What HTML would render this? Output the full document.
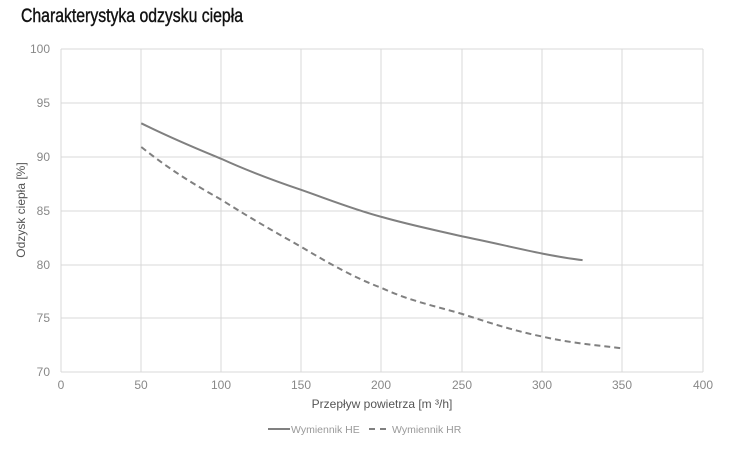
<!DOCTYPE html>
<html><head><meta charset="utf-8"><style>
body{margin:0;background:#fff;width:730px;height:447px;overflow:hidden}
svg text{font-family:"Liberation Sans",sans-serif}
</style></head><body>
<svg width="730" height="447" xmlns="http://www.w3.org/2000/svg">
<text x="21" y="22" font-size="19" fill="#111" stroke="#111" stroke-width="0.4" textLength="222" lengthAdjust="spacingAndGlyphs">Charakterystyka odzysku ciepła</text>
<g stroke="#d9d9d9" stroke-width="1">
<line x1="61" y1="49" x2="703" y2="49"/><line x1="61" y1="103" x2="703" y2="103"/><line x1="61" y1="157" x2="703" y2="157"/><line x1="61" y1="211" x2="703" y2="211"/><line x1="61" y1="265" x2="703" y2="265"/><line x1="61" y1="318" x2="703" y2="318"/>
<line x1="141" y1="49" x2="141" y2="372"/><line x1="221" y1="49" x2="221" y2="372"/><line x1="301" y1="49" x2="301" y2="372"/><line x1="381" y1="49" x2="381" y2="372"/><line x1="462" y1="49" x2="462" y2="372"/><line x1="542" y1="49" x2="542" y2="372"/><line x1="622" y1="49" x2="622" y2="372"/><line x1="703" y1="49" x2="703" y2="372"/>
<line x1="61" y1="49" x2="61" y2="372"/>
<line x1="61" y1="372" x2="703" y2="372"/>
</g>
<g font-size="12" fill="#888" text-anchor="end">
<text x="50" y="53">100</text><text x="50" y="107">95</text><text x="50" y="161">90</text><text x="50" y="215">85</text><text x="50" y="269">80</text><text x="50" y="322">75</text><text x="50" y="376">70</text>
</g>
<g font-size="12" fill="#888" text-anchor="middle">
<text x="61" y="389">0</text><text x="141" y="389">50</text><text x="221" y="389">100</text><text x="301" y="389">150</text><text x="381" y="389">200</text><text x="462" y="389">250</text><text x="542" y="389">300</text><text x="622" y="389">350</text><text x="703" y="389">400</text>
</g>
<text x="382" y="408" font-size="12" fill="#555" text-anchor="middle">Przepływ powietrza [m ³/h]</text>
<text transform="translate(25,210) rotate(-90)" font-size="12" fill="#555" text-anchor="middle">Odzysk ciepła [%]</text>
<path d="M141.3,123.3 C175,140 200,150 221.5,158.9 C250,172 275,181 301.8,190.1 C330,200 355,210 382,217 C410,225 435,230 462.3,236.4 C490,242 515,248 542.5,253.6 C560,257 572,259 582.6,260.1" fill="none" stroke="#808080" stroke-width="2"/>
<path d="M141.3,147 C170,170 195,185 221.5,199.8 C250,218 275,232 301.8,247.2 C330,264 355,278 382,288.1 C410,301 435,306 462.3,314 C490,323 515,331 542.5,336.6 C570,343 595,345 622.8,348.4" fill="none" stroke="#808080" stroke-width="2" stroke-dasharray="6,4"/>
<line x1="268" y1="429" x2="290" y2="429" stroke="#808080" stroke-width="2"/>
<text x="291" y="433" font-size="10.5" fill="#999">Wymiennik HE</text>
<line x1="369" y1="429" x2="391" y2="429" stroke="#808080" stroke-width="2" stroke-dasharray="6,5"/>
<text x="392" y="433" font-size="10.5" fill="#999">Wymiennik HR</text>
</svg>
</body></html>
